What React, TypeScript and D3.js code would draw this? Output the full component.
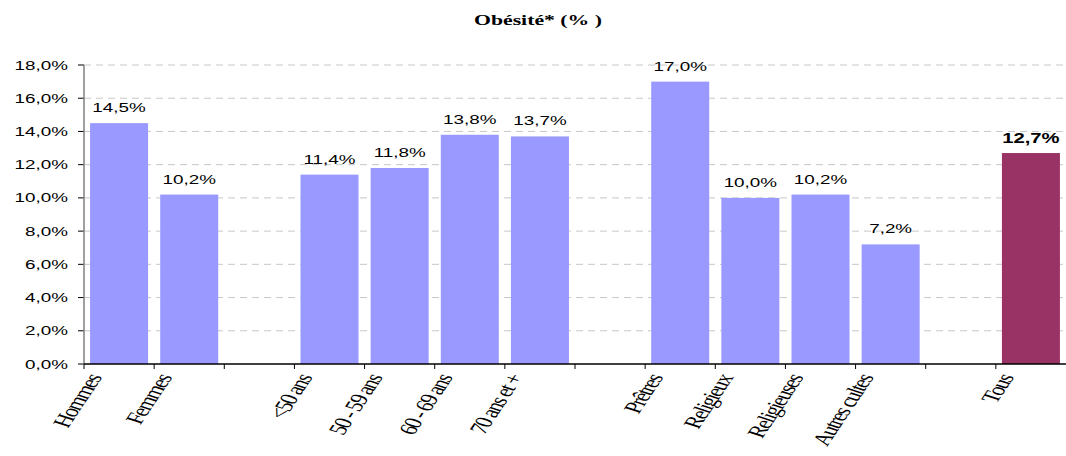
import React from "react";
import * as d3 from "d3";

const categories: string[] = ["Hommes", "Femmes", "", "<50 ans", "50 - 59 ans", "60 - 69 ans", "70 ans et +", "", "Prêtres", "Religieux", "Religieuses", "Autres cultes", "", "Tous"];
const values: (number | null)[] = [14.5, 10.2, null, 11.4, 11.8, 13.8, 13.7, null, 17.0, 10.0, 10.2, 7.2, null, 12.7];
const highlight: boolean[] = [false, false, false, false, false, false, false, false, false, false, false, false, false, true];
const yTicks: number[] = [0, 2, 4, 6, 8, 10, 12, 14, 16, 18];
const title = "Obésité* (% )";

const W = 1066, H = 456;
const left = 84, right = 1066, top = 65, bottom = 364;
const SX = 1.45;

export default function App() {
  const idx = categories.map((_, i) => String(i));
  const x = d3.scaleBand<string>().domain(idx).range([left, right]).paddingInner(0.173).paddingOuter(0.0865);
  const y = d3.scaleLinear().domain([0, 18]).range([bottom, top]);
  const step = x.step();
  const fmt = (v: number) => v.toFixed(1).replace(".", ",") + "%";
  const bounds = d3.range(categories.length).map((i) => left + i * step);
  const sans = "'Liberation Sans', Arial, sans-serif";
  const serif = "'Liberation Serif', 'Times New Roman', serif";

  return (
    <svg width={W} height={H} style={{ position: "absolute", left: 0, top: 0, background: "#fff" }}>
      <text transform={`translate(538,25) scale(1.5,1)`} textAnchor="middle" fontFamily={serif} fontWeight="bold" fontSize={14.5}>{title}</text>
      {yTicks.map((t) => (
        <g key={t}>
          {t > 0 && <line x1={left} x2={right} y1={y(t)} y2={y(t)} stroke="#c8c8c8" strokeDasharray="7,5" />}
          <line x1={left - 6} x2={left} y1={y(t)} y2={y(t)} stroke="#000" />
          <text transform={`translate(68,${y(t) + 4.6}) scale(${SX},1)`} textAnchor="end" fontFamily={sans} fontSize={13}>{fmt(t)}</text>
        </g>
      ))}
      {values.map((v, i) => v == null ? null : (
        <g key={i}>
          <rect x={x(String(i))} y={y(v)} width={x.bandwidth()} height={bottom - y(v)} fill={highlight[i] ? "#993366" : "#9999FF"} />
          <text transform={`translate(${(x(String(i)) as number) + x.bandwidth() / 2},${y(v) - (highlight[i] ? 9.7 : 11)}) scale(${highlight[i] ? 1.35 : SX},1)`} textAnchor="middle"
            fontFamily={sans} fontSize={highlight[i] ? 15 : 13} fontWeight={highlight[i] ? "bold" : "normal"}>{fmt(v)}</text>
        </g>
      ))}
      <line x1={left} x2={left} y1={top} y2={bottom} stroke="#808080" strokeWidth={1.5} />
      <line x1={left} x2={right} y1={bottom} y2={bottom} stroke="#000" strokeWidth={1.5} />
      {bounds.map((b, i) => (
        <line key={i} x1={b} x2={b} y1={bottom} y2={bottom + 5} stroke="#000" />
      ))}
      {categories.map((c, i) => c === "" ? null : (
        <text key={i} transform={`translate(${bounds[i] + 18},378) scale(${SX},1) rotate(-65)`} textAnchor="end"
          fontFamily={serif} fontSize={17.5} letterSpacing={-1.2}>{c}</text>
      ))}
    </svg>
  );
}
